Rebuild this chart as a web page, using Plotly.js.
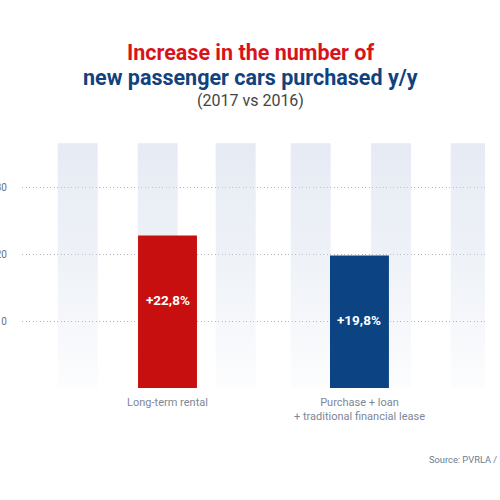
<!DOCTYPE html>
<html>
<head>
<meta charset="utf-8">
<script src="https://cdn.plot.ly/plotly-3.0.1.min.js"></script>
<style>html,body{margin:0;padding:0;background:#fff;}#chart{width:500px;height:500px;}</style>
</head>
<body>
<div id="chart"></div>
<script>
// ---- data ----
const categories = ["Long-term rental", "Purchase + loan<br>+ traditional financial lease"];
const values = [22.8, 19.8];
const barColors = ["#c80f10", "#0b4383"];
const yTickVals = [0, 10, 20, 30];
const yTickText = ["", "10", "20", "30"];
const titleLine1 = "Increase in the number of";
const titleLine2 = "new passenger cars purchased y/y";
const titleLine3 = "(2017 vs 2016)";
const sourceText = "Source: PVRLA / 2018";

// decorative background stripes (pixel-like units on hidden linear axis)
const stripeLeft = [57.7, 137.7, 215.7, 290.7, 371, 450.7];
const stripeWidth = 40;
const stripeTop = 36.6;

const sx = [], sy = [];
stripeLeft.forEach(l => {
  sx.push(l, l + stripeWidth, l + stripeWidth, l, l, null);
  sy.push(0, 0, stripeTop, stripeTop, 0, null);
});

const fmt = v => "+" + v.toFixed(1).replace(".", ",") + "%";

const traces = [
  {
    type: "scatter", mode: "lines", x: sx, y: sy, xaxis: "x", yaxis: "y",
    fill: "toself", line: {width: 0}, hoverinfo: "skip", showlegend: false,
    fillgradient: {type: "vertical", colorscale: [[0, "rgba(205,215,232,0.05)"], [0.5, "rgba(205,215,232,0.32)"], [1, "rgba(205,215,232,0.5)"]]}
  },
  {
    type: "bar", x: categories, y: values, xaxis: "x2", yaxis: "y",
    width: 0.307, marker: {color: barColors, line: {width: 0}},
    hoverinfo: "skip", showlegend: false
  }
];

const W = 500, H = 500, mL = 22, mR = 15, mT = 143, mB = 112;
const pw = W - mL - mR, ph = H - mT - mB;
const px = p => (p - mL) / pw;
const py = p => (H - mB - p) / ph;

const annotations = [
  {text: titleLine1, xref: "paper", yref: "paper", x: px(250), y: py(52), yanchor: "middle", showarrow: false,
   font: {family: "Roboto", size: 21.5, weight: 700, color: "#d8141b"}},
  {text: titleLine2, xref: "paper", yref: "paper", x: px(250), y: py(78), yanchor: "middle", showarrow: false,
   font: {family: "Roboto", size: 21.5, weight: 700, color: "#11427e"}},
  {text: titleLine3, xref: "paper", yref: "paper", x: px(250), y: py(101), yanchor: "middle", showarrow: false,
   font: {family: "Roboto", size: 16, color: "#444444"}},
  {text: sourceText, xref: "paper", yref: "paper", x: px(427), y: py(459), xanchor: "left", yanchor: "middle", showarrow: false,
   font: {family: "Roboto", size: 9.3, color: "#6d7b92"}}
];
values.forEach((v, i) => {
  annotations.push({text: "<b>" + fmt(v) + "</b>", xref: "x2", yref: "y", x: categories[i], y: v - 9.7,
    showarrow: false, font: {family: "Roboto", size: 13.5, color: "#ffffff"}});
});

const layout = {
  width: W, height: H, margin: {l: mL, r: mR, t: mT, b: mB},
  paper_bgcolor: "#ffffff", plot_bgcolor: "#ffffff",
  showlegend: false,
  xaxis: {type: "linear", range: [mL, W - mR], visible: false, fixedrange: true},
  xaxis2: {type: "category", overlaying: "x", side: "bottom", range: [-0.758, 1.654],
    showgrid: false, zeroline: false, showline: false, ticks: "",
    tickfont: {family: "Roboto", size: 11, color: "#7d8797"}, ticklabelstandoff: 6},
  yaxis: {range: [0, ph / 6.69], tickvals: yTickVals, ticktext: yTickText,
    showgrid: true, gridcolor: "#aeb5c0", griddash: "1px,2.5px", gridwidth: 1,
    zeroline: false, showline: false, ticks: "",
    tickfont: {family: "Roboto", size: 10, color: "#667085"}, ticklabelstandoff: 14},
  annotations: annotations
};

Plotly.newPlot("chart", traces, layout, {displayModeBar: false, staticPlot: true});
</script>
</body>
</html>
